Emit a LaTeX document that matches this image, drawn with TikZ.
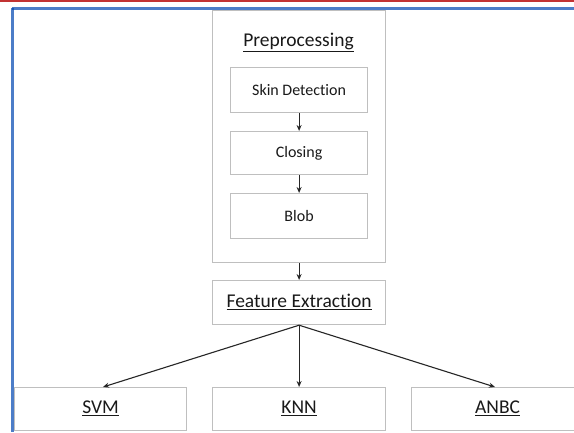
\documentclass[tikz,border=0pt]{standalone}
\usepackage{fontspec}
\setmainfont{Carlito}[Ligatures=NoCommon]
\usetikzlibrary{arrows.meta}
\begin{document}
\begin{tikzpicture}[x=1pt,y=-1pt,
  box/.style={draw=black!25, line width=1.2pt, fill=white, inner sep=0pt, anchor=north west},
  arr/.style={-{Stealth[length=6pt,width=5pt]}, line width=1.1pt, black!85},
  big/.style={font=\fontsize{19.5}{22}\selectfont, text=black!90},
  small/.style={font=\fontsize{16}{18}\selectfont, text=black!90}]
\useasboundingbox (0,0) rectangle (574,432);
\clip (0,0) rectangle (574,432);
\fill[white] (0,0) rectangle (574,432);
% frame lines
\draw[red!70!black!80, line width=2pt] (0,0.5) -- (574,0.5);
\draw[blue!60!cyan!70!black, line width=2.5pt, opacity=0.7] (12,8.5) -- (574,8.5);
\draw[blue!60!cyan!70!black, line width=2.5pt, opacity=0.7] (12.5,8) -- (12.5,432);
% preprocessing group
\node[box, minimum width=173pt, minimum height=252pt] (pre) at (212,10) {};
\node[big] (pretitle) at (298.5,42) {\underline{Preprocessing}};
\node[box, minimum width=137pt, minimum height=45pt] (skin) at (230,67) {};
\node[small] at (skin.center) {Skin Detection};
\node[box, minimum width=137pt, minimum height=43pt] (close) at (230,131) {};
\node[small] at (close.center) {Closing};
\node[box, minimum width=137pt, minimum height=45pt] (blob) at (230,193) {};
\node[small] at (blob.center) {Blob};
% feature extraction
\node[box, minimum width=173pt, minimum height=44pt] (fe) at (212,280) {};
\node[big] at ([yshift=1pt]fe.center) {\underline{Feature Extraction}};
% classifiers
\node[box, minimum width=172pt, minimum height=43pt] (svm) at (14,387) {};
\node[big] at ([yshift=1pt]svm.center) {\underline{SVM}};
\node[box, minimum width=173pt, minimum height=43pt] (knn) at (212,387) {};
\node[big] at ([yshift=1pt]knn.center) {\underline{KNN}};
\node[box, minimum width=172pt, minimum height=43pt] (anbc) at (411,387) {};
\node[big] at ([yshift=1pt]anbc.center) {\underline{ANBC}};
% arrows
\draw[arr] (skin.south) -- (close.north);
\draw[arr] (close.south) -- (blob.north);
\draw[arr] (pre.south) -- (fe.north);
\draw[arr] (fe.south) -- (svm.north -| 103,0);
\draw[arr] (fe.south) -- (knn.north);
\draw[arr] (fe.south) -- (anbc.north -| 495,0);
\end{tikzpicture}
\end{document}
